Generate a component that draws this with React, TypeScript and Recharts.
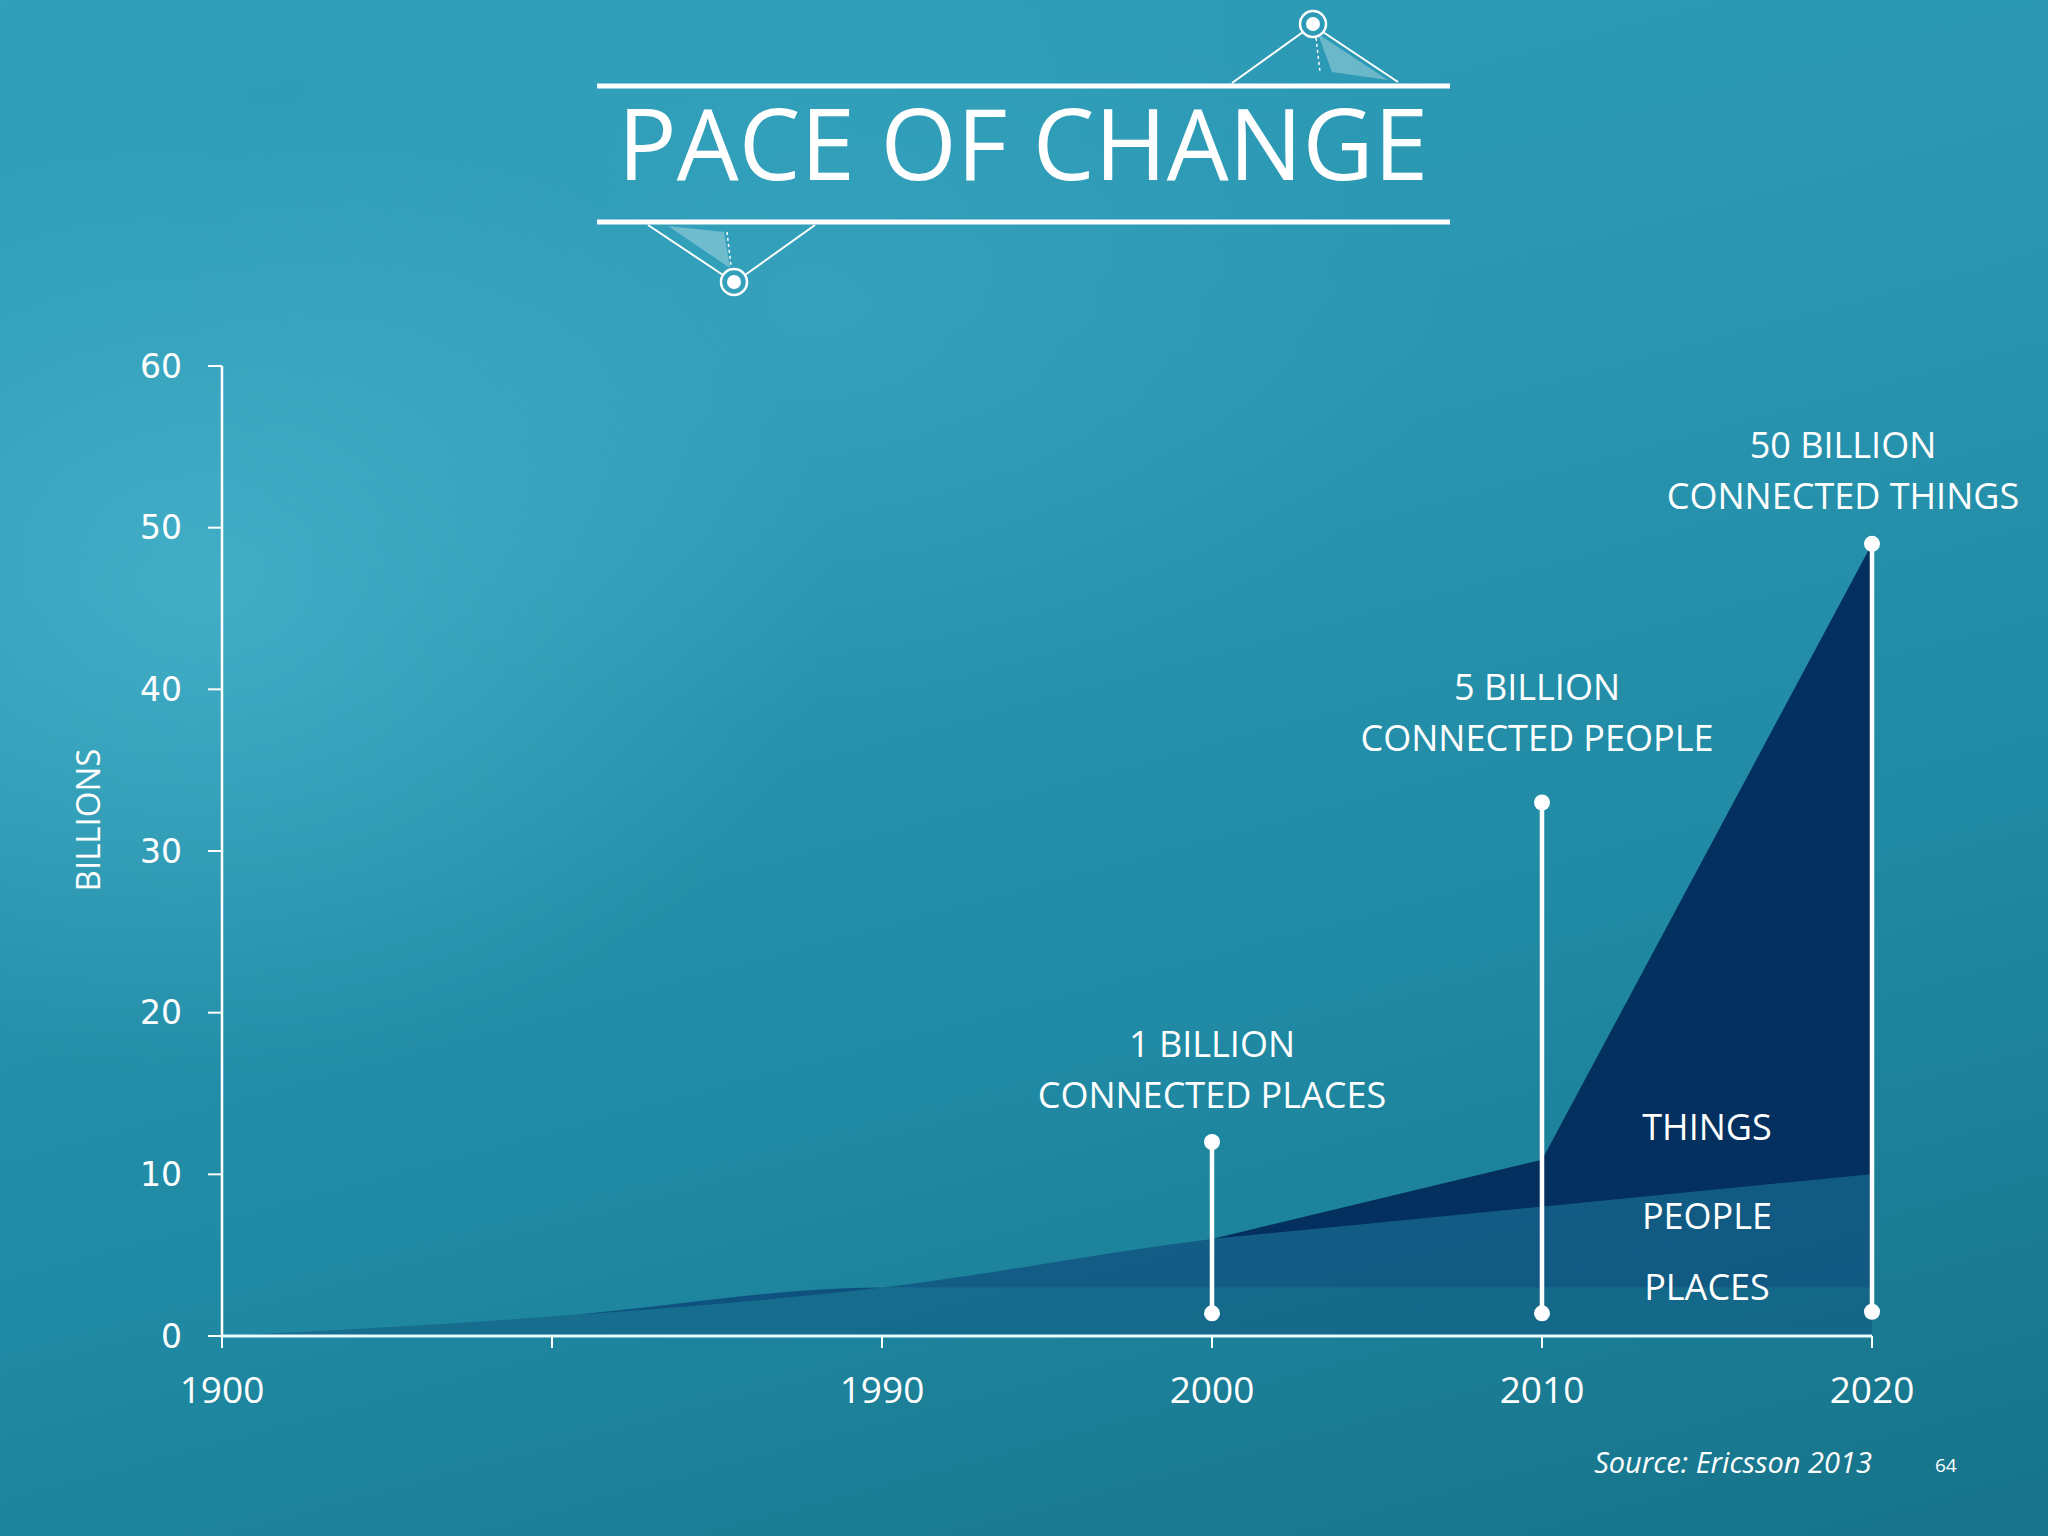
import React from "react";
import {
  AreaChart,
  Area,
  XAxis,
  YAxis,
  ReferenceLine,
  ReferenceDot,
  ReferenceArea,
} from "recharts";

// categories (second slot has no label in the source)
const years = ["1900", "", "1990", "2000", "2010", "2020"];

// stacked series, billions
const places = [0, 1.2, 3, 3, 3, 3];
const people = [0, 0, 0, 3, 5, 7];
const things = [0, 0, 0, 0, 2.9, 39];

const yTicks = [0, 10, 20, 30, 40, 50, 60];

// callout markers
const markYears = ["2000", "2010", "2020"];
const markLow = [1.4, 1.4, 1.5];
const markHigh = [12, 33, 49];
const markTitle = ["1 BILLION", "5 BILLION", "50 BILLION"];
const markSub = ["CONNECTED PLACES", "CONNECTED PEOPLE", "CONNECTED THINGS"];

// in-band labels between 2010 and 2020
const bandNames = ["THINGS", "PEOPLE", "PLACES"];
const bandLow = [11, 5.6, 1.2];
const bandHigh = [14.8, 9.2, 4.8];

const FONT = "'Open Sans', 'Liberation Sans', sans-serif";
// callout text placement relative to top dot (px)
const labelLift = [48, 65, 48];
const labelShift = [0, -5, -29];

export default function App() {
  const data = years.map((year, i) => ({
    year,
    places: places[i],
    people: people[i],
    things: things[i],
  }));

  return (
    <div
      style={{
        position: "absolute",
        left: 0,
        top: 0,
        width: 2048,
        height: 1536,
        overflow: "hidden",
        background:
          "radial-gradient(ellipse 900px 700px at 10% 38%, rgba(95,200,222,0.45), rgba(95,200,222,0) 70%), radial-gradient(ellipse 900px 600px at 40% 20%, rgba(80,185,210,0.25), rgba(80,185,210,0) 70%), linear-gradient(165deg, #2f9fba 0%, #2a96b1 35%, #2089a3 65%, #167389 100%)",
      }}
    >
      {/* title block */}
      <svg
        width={2048}
        height={320}
        style={{ position: "absolute", left: 0, top: 0 }}
      >
        <line x1={597} y1={86} x2={1450} y2={86} stroke="#fff" strokeWidth={5} />
        <line x1={597} y1={222} x2={1450} y2={222} stroke="#fff" strokeWidth={5} />
        <polygon points="1318,34 1332,72 1388,80" fill="rgba(255,255,255,0.3)" />
        <line x1={1232} y1={83} x2={1303} y2={32} stroke="#fff" strokeWidth={2} />
        <line x1={1323} y1={32} x2={1398} y2={82} stroke="#fff" strokeWidth={2} />
        <line x1={1316} y1={38} x2={1320} y2={72} stroke="#fff" strokeWidth={1.5} strokeDasharray="3 3" />
        <circle cx={1313} cy={24} r={13} fill="none" stroke="#fff" strokeWidth={2.5} />
        <circle cx={1313} cy={24} r={7} fill="#fff" />
        <polygon points="668,226 724,232 730,268" fill="rgba(255,255,255,0.3)" />
        <line x1={648} y1={225} x2={723} y2={275} stroke="#fff" strokeWidth={2} />
        <line x1={815} y1={225} x2={745} y2={275} stroke="#fff" strokeWidth={2} />
        <line x1={727} y1={232} x2={731} y2={266} stroke="#fff" strokeWidth={1.5} strokeDasharray="3 3" />
        <circle cx={734} cy={282} r={13} fill="none" stroke="#fff" strokeWidth={2.5} />
        <circle cx={734} cy={282} r={7} fill="#fff" />
        <text
          x={1023}
          y={142}
          textAnchor="middle"
          dominantBaseline="central"
          fill="#fff"
          fontFamily={FONT}
          fontSize={98}
        >
          PACE OF CHANGE
        </text>
      </svg>

      <div style={{ position: "absolute", left: 0, top: 0 }}>
        <AreaChart
          width={2048}
          height={1536}
          data={data}
          margin={{ top: 366, right: 176, left: 142, bottom: 140 }}
        >
          <XAxis
            dataKey="year"
            type="category"
            interval={0}
            height={60}
            tickSize={12}
            tickMargin={29}
            axisLine={{ stroke: "#e8fbff", strokeWidth: 3 }}
            tickLine={{ stroke: "#fff", strokeWidth: 2 }}
            tick={{ fill: "#fff", fontSize: 37, fontFamily: FONT }}
          />
          <YAxis
            type="number"
            domain={[0, 60]}
            ticks={yTicks}
            width={80}
            tickSize={14}
            tickMargin={26}
            axisLine={{ stroke: "#fff", strokeWidth: 2.5 }}
            tickLine={{ stroke: "#fff", strokeWidth: 2 }}
            tick={{ fill: "#fff", fontSize: 33, fontFamily: "'DejaVu Sans', sans-serif" }}
            label={(p: any) => {
              const vb = p.viewBox || { x: 142, y: 366, height: 970 };
              const cx = vb.x - 55;
              const cy = vb.y + vb.height / 2 - 31;
              return (
                <text
                  x={cx}
                  y={cy}
                  transform={`rotate(-90 ${cx} ${cy})`}
                  textAnchor="middle"
                  dominantBaseline="central"
                  fill="#fff"
                  fontFamily={FONT}
                  fontSize={33}
                >
                  BILLIONS
                </text>
              );
            }}
          />
          <Area
            type="monotone"
            dataKey="places"
            stackId="a"
            stroke="none"
            fill="#0E4F7A"
            fillOpacity={0.45}
            isAnimationActive={false}
          />
          <Area
            type="monotone"
            dataKey="people"
            stackId="a"
            stroke="none"
            fill="#0A3D72"
            fillOpacity={0.55}
            isAnimationActive={false}
          />
          <Area
            type="linear"
            dataKey="things"
            stackId="a"
            stroke="none"
            fill="#04305F"
            fillOpacity={1}
            isAnimationActive={false}
          />

          {bandNames.map((name, i) => (
            <ReferenceArea
              key={name}
              x1="2010"
              x2="2020"
              y1={bandLow[i]}
              y2={bandHigh[i]}
              fillOpacity={0}
              strokeOpacity={0}
              label={{
                value: name,
                position: "center",
                fill: "#fff",
                fontSize: 36,
                fontFamily: FONT,
              }}
            />
          ))}

          {markYears.map((yr, i) => (
            <ReferenceLine
              key={"l" + yr}
              segment={[
                { x: yr, y: markLow[i] },
                { x: yr, y: markHigh[i] },
              ]}
              stroke="#fff"
              strokeWidth={4.5}
            />
          ))}
          {markYears.map((yr, i) => (
            <ReferenceDot
              key={"b" + yr}
              x={yr}
              y={markLow[i]}
              r={8}
              fill="#fff"
              stroke="none"
            />
          ))}
          {markYears.map((yr, i) => (
            <ReferenceDot
              key={"t" + yr}
              x={yr}
              y={markHigh[i]}
              r={8}
              fill="#fff"
              stroke="none"
              label={(p: any) => {
                const vb = p.viewBox;
                const cx = vb.x + (vb.width || 0) / 2 + labelShift[i];
                const cy = vb.y + (vb.height || 0) / 2;
                const lift = labelLift[i];
                return (
                  <g>
                    <text
                      x={cx}
                      y={cy - lift - 51}
                      textAnchor="middle"
                      dominantBaseline="central"
                      fill="#fff"
                      fontFamily={FONT}
                      fontSize={36}
                    >
                      {markTitle[i]}
                    </text>
                    <text
                      x={cx}
                      y={cy - lift}
                      textAnchor="middle"
                      dominantBaseline="central"
                      fill="#fff"
                      fontFamily={FONT}
                      fontSize={36}
                    >
                      {markSub[i]}
                    </text>
                  </g>
                );
              }}
            />
          ))}
        </AreaChart>
      </div>

      <div
        style={{
          position: "absolute",
          right: 2048 - 1872,
          top: 1442,
          color: "#fff",
          fontFamily: FONT,
          fontStyle: "italic",
          fontSize: 29,
          whiteSpace: "nowrap",
        }}
      >
        Source: Ericsson 2013
      </div>
      <div
        style={{
          position: "absolute",
          left: 1935,
          top: 1452,
          color: "#fff",
          fontFamily: FONT,
          fontSize: 19,
        }}
      >
        64
      </div>
    </div>
  );
}
